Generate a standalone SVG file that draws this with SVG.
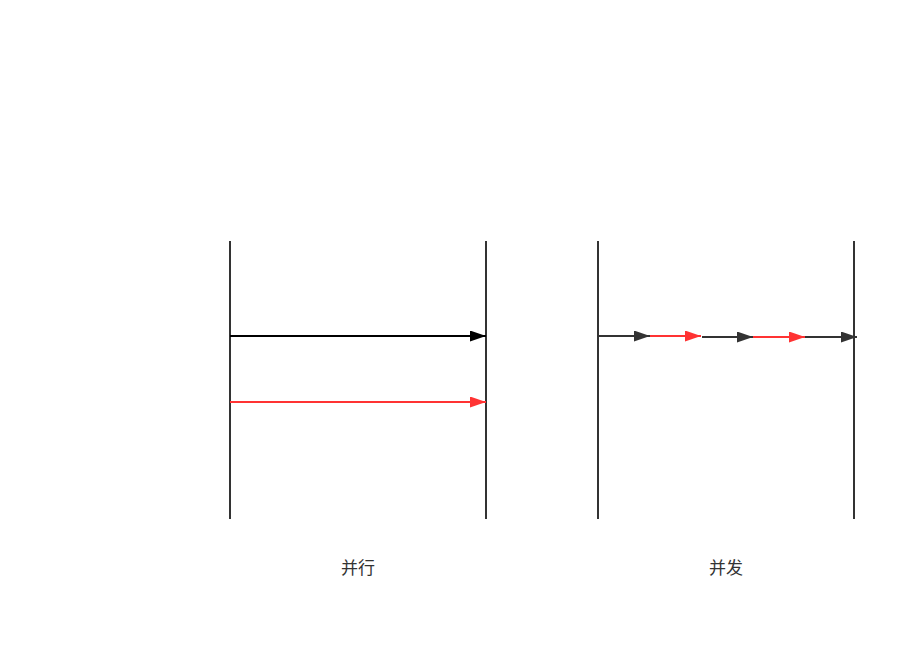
<svg xmlns="http://www.w3.org/2000/svg" width="916" height="650" viewBox="0 0 916 650">
<style>
.v{stroke:#333;stroke-width:2;fill:none}
.a{stroke-width:2;fill:none}
.k{stroke:#000}
.d{stroke:#333}
.r{stroke:#ff3333}
.t{font-family:"Noto Sans CJK SC","Liberation Sans",sans-serif;font-size:17px;fill:#333;text-anchor:middle}
</style>
<defs>
<marker id="mk" markerWidth="16" markerHeight="11" refX="16" refY="5.5" orient="auto" markerUnits="userSpaceOnUse"><path d="M0,0 L16,5.5 L0,11 Z" fill="#000"/></marker>
<marker id="md" markerWidth="16" markerHeight="11" refX="16" refY="5.5" orient="auto" markerUnits="userSpaceOnUse"><path d="M0,0 L16,5.5 L0,11 Z" fill="#333"/></marker>
<marker id="mr" markerWidth="16" markerHeight="11" refX="16" refY="5.5" orient="auto" markerUnits="userSpaceOnUse"><path d="M0,0 L16,5.5 L0,11 Z" fill="#ff3333"/></marker>
</defs>
<g id="lane-p1"><line class="v" x1="230" y1="241" x2="230" y2="519"/></g>
<g id="lane-p2"><line class="v" x1="486" y1="241" x2="486" y2="519"/></g>
<g id="lane-c1"><line class="v" x1="598" y1="241" x2="598" y2="519"/></g>
<g id="lane-c2"><line class="v" x1="854" y1="241" x2="854" y2="519"/></g>
<g id="label-parallel"><text class="t" x="358" y="574">并行</text></g>
<g id="label-concurrent"><text class="t" x="726" y="574">并发</text></g>
<g id="connectors">
<line class="a k" x1="230" y1="336" x2="486" y2="336" marker-end="url(#mk)"/>
<line class="a r" x1="230" y1="402" x2="486" y2="402" marker-end="url(#mr)"/>
<line class="a d" x1="598" y1="336" x2="650" y2="336" marker-end="url(#md)"/>
<line class="a r" x1="650" y1="336" x2="701" y2="336" marker-end="url(#mr)"/>
<line class="a d" x1="702" y1="337" x2="753" y2="337" marker-end="url(#md)"/>
<line class="a r" x1="753" y1="337" x2="805" y2="337" marker-end="url(#mr)"/>
<line class="a d" x1="805" y1="337" x2="857" y2="337" marker-end="url(#md)"/>
</g>
</svg>
